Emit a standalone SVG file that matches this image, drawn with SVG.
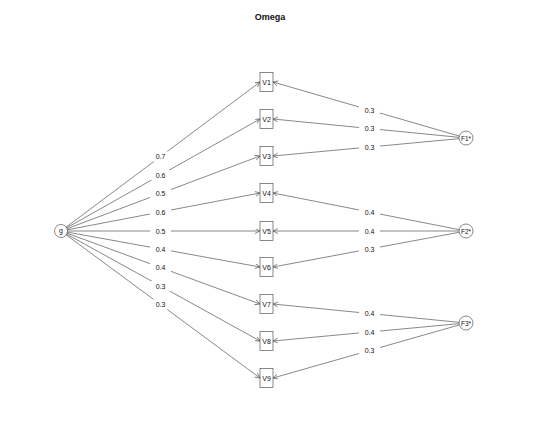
<svg xmlns="http://www.w3.org/2000/svg" width="540" height="432" viewBox="0 0 540 432">
<style>
.e{stroke:#555;stroke-width:0.7;fill:none;marker-end:url(#a)}
.bg{fill:#fff}
.t{font-family:"Liberation Sans",Arial,sans-serif;font-size:7px;fill:#111;text-anchor:middle;dominant-baseline:central}
.b{fill:#fff;stroke:#555;stroke-width:0.7}
</style>
<defs>
<marker id="a" markerUnits="userSpaceOnUse" markerWidth="6" markerHeight="6" refX="5" refY="2.5" orient="auto">
<path d="M0,0 L5,2.5 L0,5" fill="none" stroke="#555" stroke-width="0.7"/>
</marker>
</defs>
<rect width="540" height="432" fill="#fff"/>
<text x="270" y="17" class="t" style="font-weight:bold;font-size:9px">Omega</text>
<g id="connectors">
<line class="e" x1="61" y1="231" x2="260" y2="82"/>
<line class="e" x1="61" y1="231" x2="260" y2="119"/>
<line class="e" x1="61" y1="231" x2="260" y2="156"/>
<line class="e" x1="61" y1="231" x2="260" y2="193"/>
<line class="e" x1="61" y1="231" x2="260" y2="231"/>
<line class="e" x1="61" y1="231" x2="260" y2="267"/>
<line class="e" x1="61" y1="231" x2="260" y2="304"/>
<line class="e" x1="61" y1="231" x2="260" y2="341"/>
<line class="e" x1="61" y1="231" x2="260" y2="378"/>
<line class="e" x1="466" y1="138" x2="273" y2="82"/>
<line class="e" x1="466" y1="138" x2="273" y2="119"/>
<line class="e" x1="466" y1="138" x2="273" y2="156"/>
<line class="e" x1="466" y1="231" x2="273" y2="193"/>
<line class="e" x1="466" y1="231" x2="273" y2="231"/>
<line class="e" x1="466" y1="231" x2="273" y2="267"/>
<line class="e" x1="466" y1="323" x2="273" y2="304"/>
<line class="e" x1="466" y1="323" x2="273" y2="341"/>
<line class="e" x1="466" y1="323" x2="273" y2="378"/>
<g>
<rect class="bg" x="150" y="151.5" width="21" height="10"/><text class="t" x="160.5" y="156.5">0.7</text>
<rect class="bg" x="150" y="170" width="21" height="10"/><text class="t" x="160.5" y="175">0.6</text>
<rect class="bg" x="150" y="188.5" width="21" height="10"/><text class="t" x="160.5" y="193.5">0.5</text>
<rect class="bg" x="150" y="207" width="21" height="10"/><text class="t" x="160.5" y="212">0.6</text>
<rect class="bg" x="150" y="226" width="21" height="10"/><text class="t" x="160.5" y="231">0.5</text>
<rect class="bg" x="150" y="244" width="21" height="10"/><text class="t" x="160.5" y="249">0.4</text>
<rect class="bg" x="150" y="262.5" width="21" height="10"/><text class="t" x="160.5" y="267.5">0.4</text>
<rect class="bg" x="150" y="281" width="21" height="10"/><text class="t" x="160.5" y="286">0.3</text>
<rect class="bg" x="150" y="299.5" width="21" height="10"/><text class="t" x="160.5" y="304.5">0.3</text>
<rect class="bg" x="359" y="105" width="21" height="10"/><text class="t" x="369.5" y="110">0.3</text>
<rect class="bg" x="359" y="123.5" width="21" height="10"/><text class="t" x="369.5" y="128.5">0.3</text>
<rect class="bg" x="359" y="142" width="21" height="10"/><text class="t" x="369.5" y="147">0.3</text>
<rect class="bg" x="359" y="207" width="21" height="10"/><text class="t" x="369.5" y="212">0.4</text>
<rect class="bg" x="359" y="226" width="21" height="10"/><text class="t" x="369.5" y="231">0.4</text>
<rect class="bg" x="359" y="244" width="21" height="10"/><text class="t" x="369.5" y="249">0.3</text>
<rect class="bg" x="359" y="308.5" width="21" height="10"/><text class="t" x="369.5" y="313.5">0.4</text>
<rect class="bg" x="359" y="327" width="21" height="10"/><text class="t" x="369.5" y="332">0.4</text>
<rect class="bg" x="359" y="345.5" width="21" height="10"/><text class="t" x="369.5" y="350.5">0.3</text>
</g>
</g>
<g id="g"><circle class="b" cx="61" cy="231" r="6.5"/><text class="t" x="61" y="230.5">g</text></g>
<g id="F1"><circle class="b" cx="466" cy="138" r="7"/><text class="t" x="466" y="138" style="font-size:6.5px">F1*</text></g>
<g id="F2"><circle class="b" cx="466" cy="231" r="7"/><text class="t" x="466" y="231" style="font-size:6.5px">F2*</text></g>
<g id="F3"><circle class="b" cx="466" cy="323" r="7"/><text class="t" x="466" y="323" style="font-size:6.5px">F3*</text></g>
<g id="V1"><rect class="b" x="260" y="72.5" width="13" height="19"/><text class="t" x="266.5" y="82">V1</text></g>
<g id="V2"><rect class="b" x="260" y="109.5" width="13" height="19"/><text class="t" x="266.5" y="119">V2</text></g>
<g id="V3"><rect class="b" x="260" y="146.5" width="13" height="19"/><text class="t" x="266.5" y="156">V3</text></g>
<g id="V4"><rect class="b" x="260" y="183.5" width="13" height="19"/><text class="t" x="266.5" y="193">V4</text></g>
<g id="V5"><rect class="b" x="260" y="221.5" width="13" height="19"/><text class="t" x="266.5" y="231">V5</text></g>
<g id="V6"><rect class="b" x="260" y="257.5" width="13" height="19"/><text class="t" x="266.5" y="267">V6</text></g>
<g id="V7"><rect class="b" x="260" y="294.5" width="13" height="19"/><text class="t" x="266.5" y="304">V7</text></g>
<g id="V8"><rect class="b" x="260" y="331.5" width="13" height="19"/><text class="t" x="266.5" y="341">V8</text></g>
<g id="V9"><rect class="b" x="260" y="368.5" width="13" height="19"/><text class="t" x="266.5" y="378">V9</text></g>
</svg>
